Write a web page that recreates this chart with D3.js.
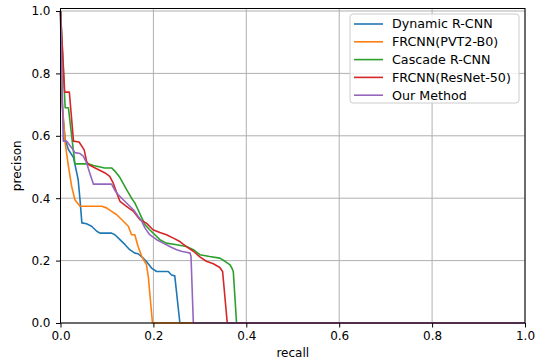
<!DOCTYPE html>
<html><head><meta charset="utf-8">
<script src="https://cdn.jsdelivr.net/npm/d3@7"></script>
<style>body{margin:0;background:#fff}svg{display:block;font-family:"DejaVu Sans",sans-serif}</style>
</head><body><div id="chart"></div>
<script>
const seriesNames = ["Dynamic R-CNN","FRCNN(PVT2-B0)","Cascade R-CNN","FRCNN(ResNet-50)","Our Method"];
const colors = ["#1f77b4","#ff7f0e","#2ca02c","#d62728","#9467bd"];
const xTicks = [0,0.2,0.4,0.6,0.8,1.0];
const yTicks = [0,0.2,0.4,0.6,0.8,1.0];

const dynamicRecall = [0,0.003,0.006,0.010,0.017,0.028,0.038,0.042,0.046,0.056,0.067,0.078,0.085,0.110,0.117,0.128,0.139,0.149,0.160,0.167,0.178,0.185,0.196,0.207,0.232,0.239,0.246,0.257,1];
const dynamicPrec   = [1.0,0.717,0.653,0.588,0.556,0.530,0.460,0.395,0.321,0.318,0.310,0.294,0.288,0.288,0.283,0.267,0.251,0.235,0.224,0.222,0.208,0.197,0.176,0.165,0.165,0.154,0.151,0,0];

const pvtRecall = [0,0.004,0.010,0.017,0.024,0.031,0.042,0.089,0.099,0.110,0.121,0.132,0.146,0.153,0.160,0.167,0.175,0.185,0.189,0.198,1];
const pvtPrec   = [1.0,0.70,0.578,0.503,0.438,0.395,0.374,0.374,0.369,0.358,0.347,0.331,0.310,0.283,0.283,0.245,0.213,0.187,0.149,0,0];

const cascadeRecall = [0,0.010,0.017,0.031,0.060,0.071,0.095,0.110,0.117,0.128,0.142,0.153,0.160,0.167,0.175,0.182,0.192,0.203,0.214,0.228,0.250,0.271,0.286,0.300,0.321,0.343,0.355,0.365,0.369,0.372,0.379,1];
const cascadePrec   = [1.0,0.69,0.69,0.51,0.51,0.505,0.497,0.497,0.487,0.466,0.428,0.40,0.385,0.363,0.337,0.315,0.299,0.283,0.267,0.256,0.251,0.245,0.235,0.219,0.213,0.208,0.197,0.186,0.176,0.165,0,0];

const resnetRecall = [0,0.009,0.019,0.028,0.040,0.051,0.056,0.060,0.081,0.096,0.106,0.113,0.121,0.128,0.142,0.157,0.171,0.185,0.199,0.214,0.228,0.243,0.257,0.271,0.286,0.300,0.314,0.329,0.343,0.349,0.359,1];
const resnetPrec   = [1.0,0.74,0.74,0.583,0.58,0.555,0.519,0.508,0.492,0.481,0.47,0.45,0.417,0.39,0.374,0.358,0.331,0.32,0.299,0.29,0.283,0.272,0.261,0.245,0.23,0.212,0.198,0.19,0.178,0.165,0,0];

const oursRecall = [0,0.006,0.013,0.024,0.031,0.042,0.049,0.056,0.064,0.071,0.110,0.117,0.124,0.135,0.146,0.157,0.167,0.175,0.182,0.192,0.207,0.221,0.235,0.250,0.262,0.271,0.279,0.281,0.286,1];
const oursPrec   = [1.0,0.583,0.583,0.562,0.546,0.543,0.535,0.514,0.476,0.445,0.445,0.425,0.412,0.395,0.379,0.363,0.342,0.326,0.304,0.283,0.267,0.256,0.245,0.235,0.229,0.227,0.224,0.213,0,0];

const recalls = [dynamicRecall,pvtRecall,cascadeRecall,resnetRecall,oursRecall];
const precs = [dynamicPrec,pvtPrec,cascadePrec,resnetPrec,oursPrec];

const W=539,H=360;
const L=60.5,R=525,T=8.5,B=323;
const svg=d3.select("#chart").append("svg").attr("width",W).attr("height",H);
const x=d3.scaleLinear().domain([0,1]).range([L,R]);
const y=d3.scaleLinear().domain([0,1.008]).range([B,T]);

// grid
const g=svg.append("g");
g.selectAll(".gx").data(xTicks).enter().append("line")
 .attr("x1",d=>x(d)).attr("x2",d=>x(d)).attr("y1",T).attr("y2",B)
 .attr("stroke","#b0b0b0").attr("stroke-width",1);
g.selectAll(".gy").data(yTicks).enter().append("line")
 .attr("y1",d=>y(d)).attr("y2",d=>y(d)).attr("x1",L).attr("x2",R)
 .attr("stroke","#b0b0b0").attr("stroke-width",1);

// lines
const line=d3.line().x(d=>x(d[0])).y(d=>y(d[1]));
recalls.forEach((rc,i)=>{
  const pts=rc.map((r,j)=>[r,precs[i][j]]);
  svg.append("path").datum(pts).attr("d",line).attr("fill","none")
   .attr("stroke",colors[i]).attr("stroke-width",1.6).attr("stroke-linejoin","round");
});

// axes
const fmt=d3.format(".1f");
const xa=svg.append("g").attr("transform",`translate(0,${B})`)
 .call(d3.axisBottom(x).tickValues(xTicks).tickFormat(fmt).tickSize(4.5).tickPadding(3.5));
const ya=svg.append("g").attr("transform",`translate(${L},0)`)
 .call(d3.axisLeft(y).tickValues(yTicks).tickFormat(fmt).tickSize(4.5).tickPadding(5.5));
[xa,ya].forEach(a=>{
  a.select(".domain").remove();
  a.selectAll("text").attr("font-family","DejaVu Sans").attr("font-size",12).attr("fill","#000");
  a.selectAll("line").attr("stroke","#000");
});
// spines
svg.append("rect").attr("x",L).attr("y",T).attr("width",R-L).attr("height",B-T)
 .attr("fill","none").attr("stroke","#000").attr("stroke-width",1);

svg.append("text").attr("x",(L+R)/2).attr("y",357).attr("text-anchor","middle")
 .attr("font-size",12).text("recall");
svg.append("text").attr("transform",`translate(21,${(T+B)/2}) rotate(-90)`).attr("text-anchor","middle")
 .attr("font-size",12).text("precison");

// legend
const lg=svg.append("g");
lg.append("rect").attr("x",350).attr("y",14).attr("width",169).attr("height",89).attr("rx",3)
 .attr("fill","#fff").attr("fill-opacity",0.8).attr("stroke","#cccccc").attr("stroke-width",1);
seriesNames.forEach((n,i)=>{
  const yy=24+i*17.8;
  lg.append("line").attr("x1",354).attr("x2",383).attr("y1",yy).attr("y2",yy)
   .attr("stroke",colors[i]).attr("stroke-width",1.6);
  lg.append("text").attr("x",392).attr("y",yy).attr("dy","0.35em").attr("font-size",12.7).text(n);
});
</script></body></html>
